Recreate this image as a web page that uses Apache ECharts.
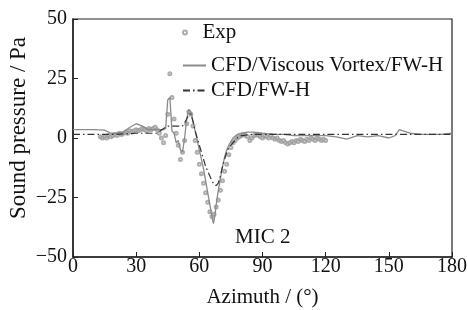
<!DOCTYPE html>
<html>
<head>
<meta charset="UTF-8">
<script src="https://cdn.jsdelivr.net/npm/echarts@6/dist/echarts.min.js"></script>
<style>
  html, body { margin: 0; padding: 0; background: #fff; }
  #main { width: 468px; height: 310px; }
</style>
</head>
<body>
<div id="main"></div>
<script>
// measured data (Exp)
var expAz = [13,14,15,16,17,18,19,20,21,22,23,24,25,26,27,28,29,30,31,32,33,34,35,36,37,38,39,40,
  41,42,43,44,45,46,47,48,49,50,51,52,53,54,55,56,57,58,59,60,61,62,63,64,65,66,67,68,69,70,
  71,72,73,74,75,76,77,78,79,80,81,82,83,84,85,86,87,88,89,90,91,92,93,94,95,96,97,98,99,100,
  101,102,103,104,105,106,107,108,109,110,111,112,113,114,115,116,117,118,119,120];
var expP = [0.5,0,0.5,0,1,0.5,1,1.5,1,2,1.5,2,2.5,2,3,2.5,3,3.5,3,3.5,4,3.5,3,4,3.5,4,4.5,3.5,
  2,0,-2,1,10,27,17,8,2,-3,-9,-6,-1,6,11,10,5,-1,-6,-11,-15,-19,-23,-27,-31,-33,-32,-29,-26,-22,
  -18,-14,-11,-7,-4,-2,-1,0,0.5,1,1.5,1,0.5,-1,0,1,1.5,1,0.5,0,1,0.5,0,1,0,-0.5,0,-1,-1.5,-1,
  -2,-2.5,-2,-1.5,-2,-1,-1.5,-0.5,-1,-1.5,-0.5,-1,0,-0.5,-1,0,-0.5,-1,-0.5,-1];

// CFD/Viscous Vortex/FW-H
var vvAz = [0,5,10,15,18,20,24,27,30,33,36,40,43,44,45,46,47,48,49,50,51,52,53,54,55,56,57,58,59,60,
  61,62,63,64,65,66,66.7,67.5,68,69,70,71,72,73,74,76,78,80,83,86,90,95,100,105,110,115,120,125,
  130,135,140,145,150,153,155,160,165,170,175,180];
var vvP = [3.5,3.5,3.5,3.3,2,2,2.5,4.5,6,5,3.5,3.5,3.5,4,16,17,3,2,-2,-1,-5,-6,0,8,12,11,7,3,-1,-5,
  -9,-13,-18,-23,-28,-33,-36,-32,-28,-22,-17,-12,-8,-5,-3,0,1.5,2,2.5,2.5,2,1.5,1.5,1,1,1,1,0.5,
  -0.5,1,0.5,1,0,1,3.5,2,1.5,1.5,1.5,2];

// CFD/FW-H
var fwAz = [0,10,20,30,40,43,45,50,52,54,55,56,57,58,59,60,61,62,63,64,65,66,67,68,69,70,71,72,73,74,
  76,78,80,85,90,100,110,120,130,140,150,160,170,180];
var fwP = [1.5,1.5,1.5,2,2,4,5,5,5,8,10,10,7,3,0,-3,-6,-9,-12,-14,-16,-18,-19.5,-20,-19,-16,-12,-9,-6,-4,
  -2,0,1,1.5,1.5,1.5,1.5,1.5,1.5,1.5,1.5,1.5,1.5,1.5];

var yTicks = [-50, -25, 0, 25, 50];

function pairs(a, b) {
  return a.map(function (x, i) { return [x, b[i]]; });
}

var serif = 'Liberation Serif';
var legendText = { fontFamily: serif, fontSize: 21, color: '#111' };
var myChart = echarts.init(document.getElementById('main'));
var option = {
  backgroundColor: '#fff',
  animation: false,
  textStyle: { fontFamily: serif },
  title: {
    text: 'MIC 2',
    left: 235, top: 227, padding: 0,
    textStyle: { fontFamily: serif, fontSize: 21, fontWeight: 'normal', color: '#111' }
  },
  grid: {
    left: 73, right: 16, top: 19, bottom: 53, outerBoundsMode: 'none', containLabel: false,
    show: true, borderColor: '#222', borderWidth: 1.2
  },
  legend: [
    { left: 182, top: 22, padding: 0, itemWidth: 25, itemHeight: 4,
      data: [{ name: 'Exp', icon: 'emptyCircle' }], textStyle: legendText },
    { left: 182, top: 55, padding: 0, itemWidth: 23, itemHeight: 10,
      data: [{ name: 'CFD/Viscous Vortex/FW-H', itemStyle: { opacity: 0 } }], textStyle: legendText },
    { left: 182, top: 80, padding: 0, itemWidth: 23, itemHeight: 10,
      data: [{ name: 'CFD/FW-H', itemStyle: { opacity: 0 } }], textStyle: legendText }
  ],
  xAxis: {
    type: 'value', min: 0, max: 180, interval: 30,
    name: 'Azimuth / (°)', nameLocation: 'middle', nameGap: 30, nameMoveOverlap: false,
    nameTextStyle: { fontFamily: serif, fontSize: 21, color: '#111' },
    axisLine: { onZero: false, lineStyle: { color: '#222', width: 1.5 } },
    axisTick: { inside: true, length: 5, lineStyle: { color: '#222' } },
    axisLabel: { fontFamily: serif, fontSize: 20, color: '#111', margin: 0 },
    splitLine: { show: false }
  },
  yAxis: {
    type: 'value', min: yTicks[0], max: yTicks[yTicks.length - 1], interval: 25,
    name: 'Sound pressure / Pa', nameLocation: 'middle', nameGap: 43, nameMoveOverlap: false,
    nameTextStyle: { fontFamily: serif, fontSize: 23, color: '#111', padding: [0, 0, 0, 20] },
    axisLine: { onZero: false, lineStyle: { color: '#222', width: 1.5 } },
    axisTick: { inside: true, length: 5, lineStyle: { color: '#222' } },
    axisLabel: {
      fontFamily: serif, fontSize: 20, color: '#111', margin: 6,
      formatter: function (v) { return String(v).replace('-', '\u2212'); }
    },
    splitLine: { show: false }
  },
  series: [
    {
      name: 'Exp', type: 'scatter', symbol: 'emptyCircle', symbolSize: 3,
      itemStyle: { color: '#999', borderWidth: 1 },
      data: pairs(expAz, expP), z: 2
    },
    {
      name: 'CFD/Viscous Vortex/FW-H', type: 'line', symbol: 'none',
      lineStyle: { color: '#8a8a8a', width: 1.3 },
      itemStyle: { color: '#8a8a8a' },
      data: pairs(vvAz, vvP), z: 3
    },
    {
      name: 'CFD/FW-H', type: 'line', symbol: 'none',
      lineStyle: { color: '#333', width: 1.2, type: [7, 3, 1.5, 3] },
      itemStyle: { color: '#333' },
      data: pairs(fwAz, fwP), z: 4
    }
  ]
};
myChart.setOption(option);
</script>
</body>
</html>
